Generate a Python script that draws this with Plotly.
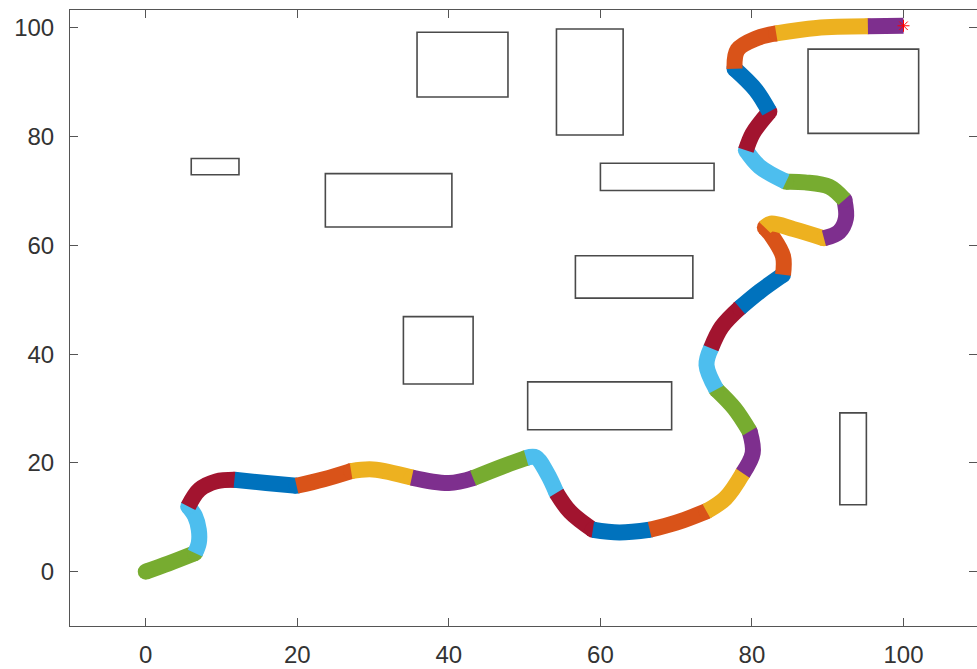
import plotly.graph_objects as go

# Obstacles (rectangles): x0, x1, y0, y1
rect_x0 = [6.0, 23.7, 35.8, 54.2, 60.0, 56.7, 34.0, 50.4, 91.6, 87.4]
rect_x1 = [12.3, 40.4, 47.8, 63.0, 75.0, 72.2, 43.2, 69.4, 95.1, 102.0]
rect_y0 = [73.0, 63.4, 87.3, 80.3, 70.1, 50.3, 34.5, 26.1, 12.3, 80.6]
rect_y1 = [76.0, 73.2, 99.2, 99.8, 75.1, 58.1, 46.9, 34.9, 29.2, 96.1]

# Path points (segments share their end points)
seg_x = [
    [0, 3, 6.5],
    [6.5, 7.0, 7.0, 6.5, 5.6],
    [5.6, 7.1, 9.3, 11.7],
    [11.7, 15.9, 19.9],
    [19.9, 23.5, 27.1],
    [27.1, 30.0, 35.1],
    [35.1, 40.0, 43.2],
    [43.2, 47.0, 50.2],
    [50.2, 51.5, 53.0, 54.2],
    [54.2, 56.0, 59.0],
    [59.0, 62.5, 66.5],
    [66.5, 70.0, 74.0],
    [74.0, 76.5, 78.8],
    [78.8, 80.1, 79.7],
    [79.7, 77.7, 75.3],
    [75.3, 74.0, 74.6],
    [74.6, 76.0, 78.4],
    [78.4, 81.0, 84.1],
    [84.1, 84.1, 82.7, 81.7],
    [81.7, 82.5, 85.5, 89.5],
    [89.5, 91.5, 92.4, 92.2],
    [92.2, 90.2, 87.0, 84.5],
    [84.5, 81.0, 79.2],
    [79.2, 80.1, 82.3],
    [82.3, 80.5, 77.7],
    [77.7, 78.1, 80.6, 83.2],
    [83.2, 88.5, 95.3],
    [95.3, 100.0],
]
seg_y = [
    [0, 1.5, 3.4],
    [3.4, 5.3, 7.7, 10.2, 12.0],
    [12.0, 15.1, 16.6, 16.9],
    [16.9, 16.3, 15.8],
    [15.8, 17.0, 18.5],
    [18.5, 18.8, 17.3],
    [17.3, 16.3, 17.2],
    [17.2, 19.3, 20.9],
    [20.9, 21.0, 18.0, 14.5],
    [14.5, 11.0, 7.7],
    [7.7, 7.2, 7.7],
    [7.7, 9.0, 11.1],
    [11.1, 13.5, 18.1],
    [18.1, 21.8, 25.8],
    [25.8, 30.0, 33.5],
    [33.5, 38.0, 41.1],
    [41.1, 45.0, 48.5],
    [48.5, 51.5, 54.6],
    [54.6, 58.0, 61.6, 63.3],
    [63.3, 64.0, 63.0, 61.3],
    [61.3, 62.5, 65.0, 68.4],
    [68.4, 70.8, 71.6, 71.7],
    [71.7, 74.5, 77.5],
    [77.5, 80.6, 84.6],
    [84.6, 88.6, 92.5],
    [92.5, 96.0, 98.1, 99.0],
    [99.0, 100.0, 100.3],
    [100.3, 100.4],
]
color_order = ["#77AC30", "#4DBEEE", "#A2142F", "#0072BD", "#D95319", "#EDB120", "#7E2F8E"]

goal_x = [100.0]
goal_y = [100.4]

x_ticks = [0, 20, 40, 60, 80, 100]
y_ticks = [0, 20, 40, 60, 80, 100]

LW = 16
fig = go.Figure()
n = len(seg_x)
for i, (xs, ys) in enumerate(zip(seg_x, seg_y)):
    c = color_order[i % len(color_order)]
    fig.add_trace(go.Scatter(
        x=xs, y=ys, mode="lines",
        line=dict(color=c, width=LW, shape="spline", smoothing=1.0),
        showlegend=False, hoverinfo="skip",
    ))
    # rounded joint at the segment end (and the path start)
    jx = [xs[-1]] if i < n - 1 else []
    jy = [ys[-1]] if i < n - 1 else []
    if i == 0:
        jx = [xs[0]] + jx
        jy = [ys[0]] + jy
    if jx:
        fig.add_trace(go.Scatter(
            x=jx, y=jy, mode="markers",
            marker=dict(color=c, size=LW, line=dict(width=0)),
            showlegend=False, hoverinfo="skip",
        ))

fig.add_trace(go.Scatter(
    x=goal_x, y=goal_y, mode="markers",
    marker=dict(symbol="asterisk-open", size=10, color="red", line=dict(color="red", width=1)),
    showlegend=False,
))

for x0, x1, y0, y1 in zip(rect_x0, rect_x1, rect_y0, rect_y1):
    fig.add_shape(type="rect", xref="x", yref="y", x0=x0, x1=x1, y0=y0, y1=y1,
                  line=dict(color="#4a4a4a", width=1.6), fillcolor="rgba(0,0,0,0)")

axis_style = dict(
    showgrid=False, zeroline=False, showline=True, linecolor="#555555", linewidth=1,
    mirror="ticks", ticks="inside", ticklen=8, tickcolor="#555555", tickwidth=1,
    automargin=False,
    tickfont=dict(family="Liberation Sans, Arial, sans-serif", size=24, color="#333333"),
)
fig.update_xaxes(range=[-10, 109.7], tickvals=x_ticks, ticklabelstandoff=7, **axis_style)
fig.update_yaxes(range=[-10, 103.3], tickvals=y_ticks, ticklabelstandoff=10, **axis_style)

fig.update_layout(
    width=977, height=669,
    margin=dict(l=70, r=0, t=10, b=43),
    paper_bgcolor="white", plot_bgcolor="white",
    showlegend=False,
)
fig.write_html("out.html", config={"displayModeBar": False},
               post_script="document.body.style.margin='0';document.body.style.overflow='hidden';")
